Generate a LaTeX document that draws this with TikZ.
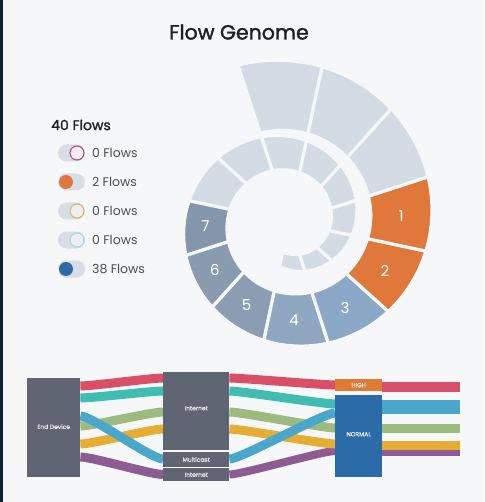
\documentclass[tikz,border=0pt]{standalone}
\usepackage{fontspec}
\setmainfont{Poppins}
\newfontfamily\heavy{Poppins}[FakeBold=1.6]
\newfontfamily\semi{Poppins}[FakeBold=0.8]
\usetikzlibrary{calc,shapes.misc}
\definecolor{bg}{HTML}{F5F7F9}
\definecolor{navy}{HTML}{0D2236}
\definecolor{ink}{HTML}{1F2024}
\definecolor{lite}{HTML}{D3DBE5}
\definecolor{segor}{HTML}{E0783B}
\definecolor{segA}{HTML}{8BA9C6}
\definecolor{segB}{HTML}{8FA7C0}
\definecolor{segC}{HTML}{8A9DB3}
\definecolor{segD}{HTML}{899BAF}
\definecolor{segE}{HTML}{8396AB}
\definecolor{pill}{HTML}{D9DEE6}
\definecolor{knob}{HTML}{ECEFF3}
\definecolor{kred}{HTML}{B5506E}
\definecolor{kyel}{HTML}{E2B55A}
\definecolor{kcyan}{HTML}{A8D2DC}
\definecolor{kor}{HTML}{E0783B}
\definecolor{kblue}{HTML}{2D6AA6}
\definecolor{slate}{HTML}{5F6573}
\definecolor{highc}{HTML}{E07B36}
\definecolor{normc}{HTML}{2B6CA8}
\definecolor{bred}{HTML}{D94F68}
\definecolor{bteal}{HTML}{3FBDB0}
\definecolor{bblue}{HTML}{4BA6CC}
\definecolor{bgreen}{HTML}{9DBB7E}
\definecolor{byell}{HTML}{E6AD35}
\definecolor{bpurp}{HTML}{8E5B92}
\pgfdeclarelayer{back}
\pgfdeclarelayer{mid}
\pgfsetlayers{back,mid,main}
\tikzset{
  seglab/.style={text=white,font=\fontsize{15}{15}\selectfont,inner sep=0},
  pillbox/.style={rounded rectangle,fill=pill,minimum width=27,minimum height=17,inner sep=0},
  knobc/.style={circle,minimum size=14,inner sep=0,line width=1.1pt},
  legtxt/.style={anchor=west,text=ink!80,font=\fontsize{12.5}{12.5}\selectfont,inner sep=0},
  sbox/.style={anchor=north west,inner sep=0},
  slab/.style={text=white!92!black,font=\semi\fontsize{6}{6}\selectfont,inner sep=0},
  band/.style={line width=9}
}
\newcommand\spseg[3]{%
  \filldraw[fill=#3,draw=bg,line width=3.2pt,line join=round]
    plot[domain=#1:#2,samples=9] ({289+(48+0.21*(\x+90))*cos(\x)},{222-(48+0.21*(\x+90))*sin(\x)})
    -- plot[domain=#2:#1,samples=9] ({289+(32+0.11*(\x+90))*cos(\x)},{222-(32+0.11*(\x+90))*sin(\x)})
    -- cycle;}
\newcommand\bandlr[6]{%
  \draw[band,#1,line width=#6] ($(#2.north east)+(0,#3)$) .. controls +(12,0) and +(-12,0) .. ($(#4.north west)+(0,#5)$);}
\begin{document}
\begin{tikzpicture}[x=1pt,y=-1pt]
\begin{pgfonlayer}{back}
  \fill[bg] (0,0) rectangle (484,502);
  \fill[navy] (0,0) rectangle (2.5,502);
\end{pgfonlayer}
\useasboundingbox (0,0) rectangle (484,502);

\node[text=ink,font=\heavy\fontsize{20.5}{22}\selectfont] (title) at (239,32) {Flow Genome};

% spiral
\foreach \i/\c in {0/lite,1/lite,2/lite,3/lite,4/lite,5/lite,6/lite,7/lite,8/lite,
  9/segE,10/segD,11/segC,12/segB,13/segA,14/segor,15/segor,16/lite,17/lite,18/lite}{
  \pgfmathsetmacro\aa{-102+30*\i}
  \pgfmathsetmacro\ab{-72+30*\i}
  \spseg{\aa}{\ab}{\c}
}
\foreach \i/\t in {9/7,10/6,11/5,12/4,13/3,14/2,15/1}{
  \pgfmathsetmacro\th{-87+30*\i}
  \pgfmathsetmacro\rc{40+0.16*(\th+90)}
  \node[seglab] (l\t) at ({289+\rc*cos(\th)},{222-\rc*sin(\th)}) {\t};
}

% legend
\node[anchor=west,text=ink,font=\heavy\fontsize{14}{14}\selectfont,inner sep=0] (total) at (51,125) {40 Flows};
\node[pillbox] (p1) at (71.5,153) {};
\node[knobc,fill=knob,draw=kred] (k1) at (77,153) {};
\node[legtxt] (t1) at (92,153) {0 Flows};
\node[pillbox] (p2) at (71.5,182) {};
\node[knobc,fill=kor] (k2) at (66,182) {};
\node[legtxt] (t2) at (92,182) {2 Flows};
\node[pillbox] (p3) at (71.5,211) {};
\node[knobc,fill=knob,draw=kyel] (k3) at (77,211) {};
\node[legtxt] (t3) at (92,211) {0 Flows};
\node[pillbox] (p4) at (71.5,240) {};
\node[knobc,fill=knob,draw=kcyan] (k4) at (77,240) {};
\node[legtxt] (t4) at (92,240) {0 Flows};
\node[pillbox] (p5) at (71.5,269) {};
\node[knobc,fill=kblue] (k5) at (66,269) {};
\node[legtxt] (t5) at (92,269) {38 Flows};

% sankey boxes
\node[sbox,fill=slate,minimum width=53,minimum height=99] (ed) at (27,378) {};
\node[slab] (edl) at ($(ed.center)+(0,-1)$) {End Device};
\node[sbox,fill=slate,minimum width=66,minimum height=78] (inet) at (163,372) {};
\node[slab] (inetl) at ($(inet.center)+(0,-3)$) {Internet};
\node[sbox,fill=slate,minimum width=66,minimum height=14.5] (mc) at (163,452) {};
\node[slab] (mcl) at (mc.center) {Multicast};
\node[sbox,fill=slate,minimum width=66,minimum height=13] (inet2) at (163,468) {};
\node[slab] (inet2l) at (inet2.center) {Internet};
\node[sbox,fill=highc,minimum width=47,minimum height=12] (high) at (335,379) {};
\node[slab] (highl) at (high.center) {HIGH};
\node[sbox,fill=normc,minimum width=47,minimum height=82] (normal) at (335,395) {};
\node[slab] (normall) at ($(normal.center)+(0,-2)$) {NORMAL};

\coordinate (o1) at (460,387);
\coordinate (o2) at (460,407);
\coordinate (o3) at (460,428.5);
\coordinate (o4) at (460,445.5);
\coordinate (o5) at (460,452.5);

\begin{pgfonlayer}{mid}
  % end device -> middle
  \bandlr{bred}{ed}{8}{inet}{6}{9}
  \bandlr{bteal}{ed}{20}{inet}{19}{9}
  \bandlr{bgreen}{ed}{48}{inet}{40}{9}
  \bandlr{byell}{ed}{66}{inet}{57}{9}
  \bandlr{bpurp}{ed}{79}{inet2}{6.5}{9}
  \bandlr{bblue}{ed}{38}{mc}{7}{9}
  % middle -> right
  \bandlr{bred}{inet}{6}{high}{6}{9}
  \bandlr{bteal}{inet}{19}{normal}{9}{9}
  \bandlr{bgreen}{inet}{40}{normal}{33}{9}
  \bandlr{bpurp}{inet2}{6.5}{normal}{56}{8}
  \bandlr{byell}{inet}{57}{normal}{49}{9}
  \bandlr{bblue}{mc}{7}{normal}{18}{9}
  % outgoing
  \draw[band,bred,line width=10] ($(high.north east)+(0,8)$) -- (o1);
  \draw[band,bblue,line width=14] ($(normal.north east)+(0,12)$) -- (o2);
  \draw[band,bgreen,line width=9] ($(normal.north east)+(0,33.5)$) -- (o3);
  \draw[band,bpurp,line width=7] ($(normal.north east)+(0,57.5)$) -- (o5);
  \draw[band,byell,line width=9] ($(normal.north east)+(0,50.5)$) -- (o4);
\end{pgfonlayer}
\end{tikzpicture}
\end{document}
